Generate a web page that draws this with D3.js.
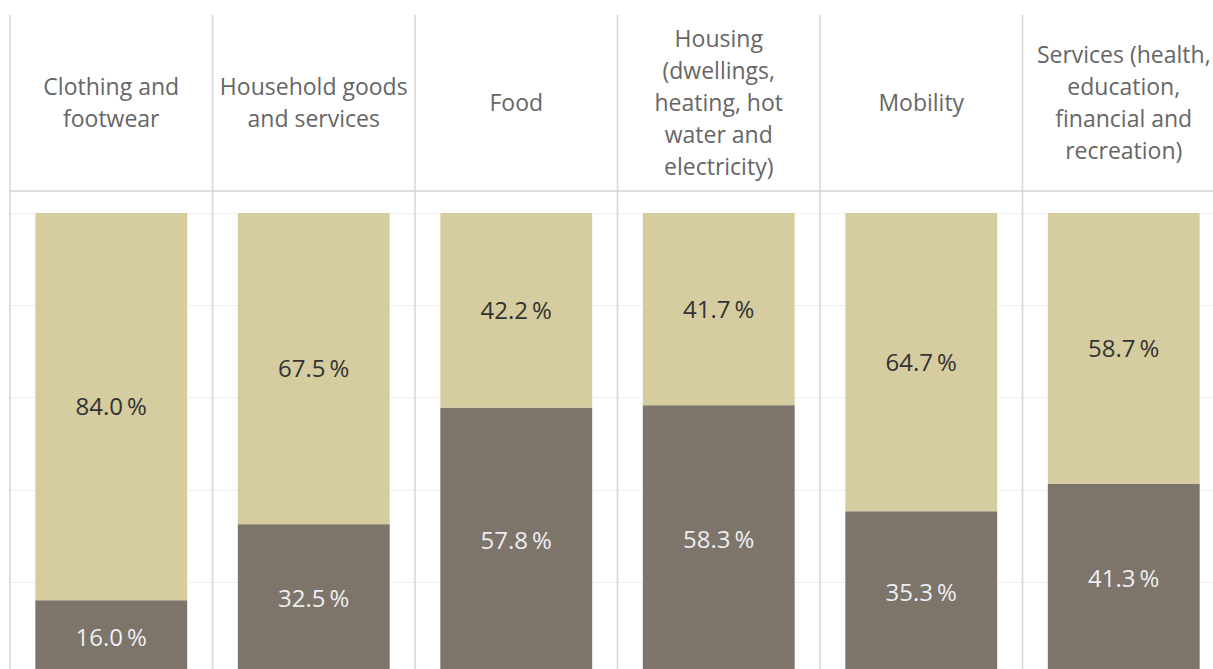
<!DOCTYPE html>
<html>
<head>
<meta charset="utf-8">
<script src="https://cdn.jsdelivr.net/npm/d3@7/dist/d3.min.js"></script>
<style>
  html, body { margin: 0; padding: 0; background: #ffffff; }
  svg { display: block; }
</style>
</head>
<body>
<svg id="chart" width="1213" height="669"></svg>
<script>
// Spending categories (header text, line breaks marked with \n)
const categories = [
  "Clothing and\nfootwear",
  "Household goods\nand services",
  "Food",
  "Housing\n(dwellings,\nheating, hot\nwater and\nelectricity)",
  "Mobility",
  "Services (health,\neducation,\nfinancial and\nrecreation)"
];
// Share of each category, bottom segment (dark) and top segment (light), in %
const lowerShare = [16.0, 32.5, 57.8, 58.3, 35.3, 41.3];
const upperShare = [84.0, 67.5, 42.2, 41.7, 64.7, 58.7];
const gridTicks = [20, 40, 60, 80, 100];

const seriesKeys = ["lower", "upper"];
const colors = { lower: "#7d746a", upper: "#d5cd9f" };
const labelColors = { lower: "#eceef2", upper: "#333333" };

const rows = categories.map((c, i) => ({ cat: c, lower: lowerShare[i], upper: upperShare[i] }));

const svg = d3.select("#chart");
const W = 1213, H = 669;

const left = 10, colStep = 202.5;
const x = d3.scaleBand()
  .domain(categories)
  .range([left, left + colStep * categories.length])
  .paddingInner(0.25)
  .paddingOuter(0.125);

const headerTop = 15, headerBottom = 191;
const y = d3.scaleLinear().domain([0, 100]).range([674, 213]);

// horizontal gridlines
svg.append("g")
  .selectAll("line")
  .data(gridTicks)
  .join("line")
  .attr("x1", left).attr("x2", W)
  .attr("y1", d => Math.round(y(d)) + 0.5)
  .attr("y2", d => Math.round(y(d)) + 0.5)
  .attr("stroke", "#efefef")
  .attr("stroke-width", 1);

// stacked bars
const stack = d3.stack().keys(seriesKeys)(rows);
const layers = svg.append("g")
  .selectAll("g")
  .data(stack)
  .join("g")
  .attr("fill", d => colors[d.key]);

layers.selectAll("rect")
  .data(d => d.map(p => ({ p, key: d.key })))
  .join("rect")
  .attr("x", d => x(d.p.data.cat))
  .attr("width", x.bandwidth())
  .attr("y", d => y(d.p[1]))
  .attr("height", d => y(d.p[0]) - y(d.p[1]));

// value labels centred in each segment
const fmt = v => d3.format(".1f")(v) + "\u2009%";
svg.append("g")
  .selectAll("g")
  .data(stack)
  .join("g")
  .selectAll("text")
  .data(d => d.map(p => ({ p, key: d.key })))
  .join("text")
  .attr("x", d => x(d.p.data.cat) + x.bandwidth() / 2)
  .attr("y", d => (y(d.p[0]) + y(d.p[1])) / 2)
  .attr("dy", "0.35em")
  .attr("text-anchor", "middle")
  .attr("font-family", "'Open Sans', sans-serif")
  .attr("font-size", 24)
  .attr("fill", d => labelColors[d.key])
  .text(d => fmt(d.p.data[d.key]));

// column dividers
svg.append("g")
  .selectAll("line")
  .data(categories)
  .join("line")
  .attr("x1", d => x(d) - x.step() * x.paddingOuter())
  .attr("x2", d => x(d) - x.step() * x.paddingOuter())
  .attr("y1", headerTop)
  .attr("y2", H)
  .attr("stroke", "#d8d8d8")
  .attr("stroke-width", 1.6);

// header separator
svg.append("line")
  .attr("x1", left).attr("x2", W)
  .attr("y1", headerBottom).attr("y2", headerBottom)
  .attr("stroke", "#d2d2d2")
  .attr("stroke-width", 1.6);

// header labels
const lineH = 32;
const headerMid = (headerTop + headerBottom) / 2;
svg.append("g")
  .selectAll("text")
  .data(categories)
  .join("text")
  .attr("text-anchor", "middle")
  .attr("font-family", "'Open Sans', sans-serif")
  .attr("font-size", 23)
  .attr("fill", "#666666")
  .each(function (d) {
    const lines = d.split("\n");
    const cx = x(d) + x.bandwidth() / 2;
    const y0 = headerMid - (lines.length - 1) * lineH / 2;
    d3.select(this).selectAll("tspan")
      .data(lines)
      .join("tspan")
      .attr("x", cx)
      .attr("y", (l, i) => y0 + i * lineH)
      .attr("dy", "0.35em")
      .text(l => l);
  });
</script>
</body>
</html>
